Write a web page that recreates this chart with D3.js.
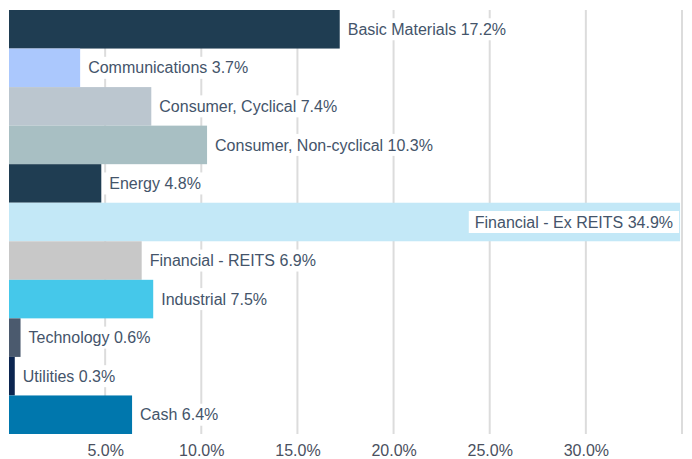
<!DOCTYPE html>
<html>
<head>
<meta charset="utf-8">
<script src="https://cdn.jsdelivr.net/npm/d3@7"></script>
<style>
  body { margin: 0; background: #fff; }
  text { font-family: "Liberation Sans", Arial, sans-serif; }
</style>
</head>
<body>
<div id="chart"></div>
<script>
//Chart data
const sectors = ["Basic Materials", "Communications", "Consumer, Cyclical", "Consumer, Non-cyclical", "Energy", "Financial - Ex REITS", "Financial - REITS", "Industrial", "Technology", "Utilities", "Cash"];
const weights = [17.2, 3.7, 7.4, 10.3, 4.8, 34.9, 6.9, 7.5, 0.6, 0.3, 6.4];
const barColors = ["#1f3d52", "#abc8fd", "#bbc6cf", "#a8bfc3", "#1f3d52", "#c3e8f7", "#c8c8c8", "#45c8ea", "#4b5a6e", "#0b2550", "#0077ad"];
const tickValues = [5, 10, 15, 20, 25, 30];
const gridValues = [5, 10, 15, 20, 25, 30, 35];

const width = 692;
const height = 459;

const data = sectors.map((s, i) => ({ name: s, value: weights[i], color: barColors[i] }));

const svg = d3.select("#chart").append("svg").attr("width", width).attr("height", height);

//Scales
const x = d3.scaleLinear().domain([0, 35]).range([9, 682]);
const y = d3.scaleBand().domain(sectors).range([10, 434]).padding(0);

//Gridlines
svg.append("g").selectAll("line")
    .data(gridValues)
    .enter().append("line")
    .attr("x1", d => x(d)).attr("x2", d => x(d))
    .attr("y1", 10).attr("y2", 434)
    .attr("stroke", "#dcdcdc")
    .attr("stroke-width", 2);

//Bars
svg.append("g").selectAll("rect")
    .data(data)
    .enter().append("rect")
    .attr("x", x(0))
    .attr("y", d => y(d.name))
    .attr("width", d => x(d.value) - x(0))
    .attr("height", y.bandwidth())
    .attr("fill", d => d.color);

//Labels with white boxes
const labels = svg.append("g").selectAll("g")
    .data(data)
    .enter().append("g");

labels.each(function (d) {
    const g = d3.select(this);
    const label = d.name + " " + d.value.toFixed(1) + "%";
    const inside = x(d.value) > 600;
    const cy = y(d.name) + y.bandwidth() / 2;
    const t = g.append("text")
        .attr("y", cy)
        .attr("dy", "0.35em")
        .attr("font-size", 16)
        .attr("fill", "#44546a")
        .text(label);
    if (inside) {
        t.attr("x", x(d.value) - 7).attr("text-anchor", "end");
    } else {
        t.attr("x", x(d.value) + 8).attr("text-anchor", "start");
    }
    const bb = t.node().getBBox();
    g.insert("rect", "text")
        .attr("x", bb.x - 6)
        .attr("y", cy - 11)
        .attr("width", bb.width + 12)
        .attr("height", 22)
        .attr("fill", "#fff");
});

//Axis labels
const xAxis = d3.axisBottom(x).tickValues(tickValues).tickFormat(d => d.toFixed(1) + "%").tickSize(0);
const axisG = svg.append("g").attr("transform", `translate(0, 442)`).call(xAxis);
axisG.select(".domain").remove();
axisG.selectAll("text").attr("font-size", 16).attr("fill", "#4a5060").attr("dy", "0.71em").attr("font-family", "Liberation Sans, Arial, sans-serif");
</script>
</body>
</html>
